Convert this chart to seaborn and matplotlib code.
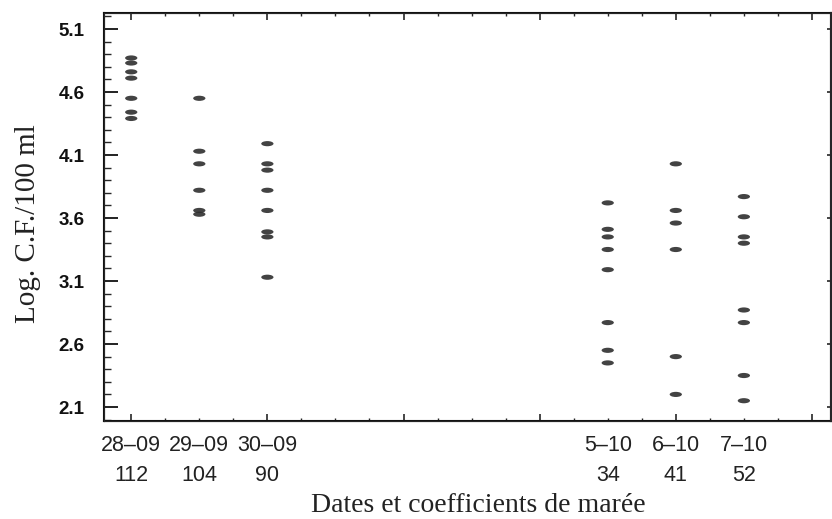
import matplotlib.pyplot as plt
import matplotlib.path as mpath
import matplotlib.transforms as mtrans
from matplotlib.markers import MarkerStyle
from matplotlib.ticker import MultipleLocator, FixedLocator, FormatStrFormatter
import seaborn as sns
import pandas as pd
import numpy as np

# Dates de prélèvement et coefficients de marée
dates = ['28-09', '29-09', '30-09', '5-10', '6-10', '7-10']
coefficients = [112, 104, 90, 34, 41, 52]

# Log. C.F./100 ml, un tableau par date
log_28_09 = [4.87, 4.83, 4.76, 4.71, 4.55, 4.44, 4.39]
log_29_09 = [4.55, 4.13, 4.03, 3.82, 3.66, 3.63]
log_30_09 = [4.19, 4.03, 3.98, 3.82, 3.66, 3.49, 3.45, 3.13]
log_5_10 = [3.72, 3.51, 3.45, 3.35, 3.19, 2.77, 2.55, 2.45]
log_6_10 = [4.03, 3.66, 3.56, 3.35, 2.50, 2.20]
log_7_10 = [3.77, 3.61, 3.45, 3.40, 2.87, 2.77, 2.35, 2.15]

series = [log_28_09, log_29_09, log_30_09, log_5_10, log_6_10, log_7_10]

# day number counted from the first sampling date
jd = pd.to_datetime(dates, format='%d-%m')
jour = (jd - jd[0]).days.to_numpy()

df = pd.DataFrame({
    'jour': np.repeat(jour, [len(s) for s in series]),
    'log_cf': np.concatenate(series),
})

sns.set_style('ticks')
plt.rcParams['font.family'] = ['Liberation Sans', 'DejaVu Sans']

fig = plt.figure(figsize=(8.32, 5.19), dpi=100)
ax = fig.add_axes([104 / 832, 1 - 421 / 519, 727 / 832, 408 / 519])

# short horizontal ellipse as marker
ell = mpath.Path.unit_circle().transformed(mtrans.Affine2D().scale(1, 0.42))
sns.scatterplot(data=df, x='jour', y='log_cf', ax=ax, marker=MarkerStyle(ell),
                s=78, color='#2e2e2e', edgecolor='none', alpha=0.9, zorder=3)

ax.set_xlim(-0.4, 10.28)
ax.set_ylim(1.989, 5.227)

for s in ax.spines.values():
    s.set_linewidth(1.5)
    s.set_color('#111111')

ax.xaxis.set_major_locator(MultipleLocator(2))
ax.xaxis.set_minor_locator(MultipleLocator(0.5))
ax.tick_params(axis='x', which='major', direction='in', length=5, width=1.2,
               top=True, labelbottom=False)
ax.tick_params(axis='x', which='minor', direction='in', length=2.5, width=1.0,
               top=True)

ax.yaxis.set_major_locator(FixedLocator(np.arange(2.1, 5.15, 0.5)))
ax.yaxis.set_minor_locator(MultipleLocator(0.1))
ax.yaxis.set_major_formatter(FormatStrFormatter('%.1f'))
ax.tick_params(axis='y', which='major', direction='in', length=10, width=1.3,
               pad=14, labelsize=13.5, colors='#111111')
ax.tick_params(axis='y', which='minor', direction='in', length=5, width=1.0)
for t in ax.get_yticklabels():
    t.set_fontweight('bold')

# right side: short major ticks only
axr = ax.twinx()
axr.set_ylim(ax.get_ylim())
axr.yaxis.set_major_locator(FixedLocator(np.arange(2.1, 5.15, 0.5)))
axr.tick_params(axis='y', direction='in', length=3, width=1.2, labelright=False)
axr.spines['right'].set_linewidth(1.5)
axr.grid(False)

# date + coefficient labels under the axis
sec = ax.secondary_xaxis('bottom')
sec.set_xticks(jour, labels=[f'{d.replace("-", "–")}\n{c}' for d, c in zip(dates, coefficients)])
sec.tick_params(length=0, pad=10, labelsize=15.5)
sec.spines['bottom'].set_visible(False)
for t in sec.get_xticklabels():
    t.set_linespacing(1.6)
    t.set_color('#222222')

ax.set_xlabel('Dates et coefficients de marée', family='Liberation Serif',
              fontsize=20, color='#222222')
ax.set_ylabel('Log. C.F./100 ml', family='Liberation Serif', fontsize=21,
              color='#222222')
ax.xaxis.set_label_coords(0.515, -0.177)
ax.xaxis.label.set_va('top')
ax.yaxis.set_label_coords(-0.086, 0.483)

fig.savefig('out.png', dpi=100)
